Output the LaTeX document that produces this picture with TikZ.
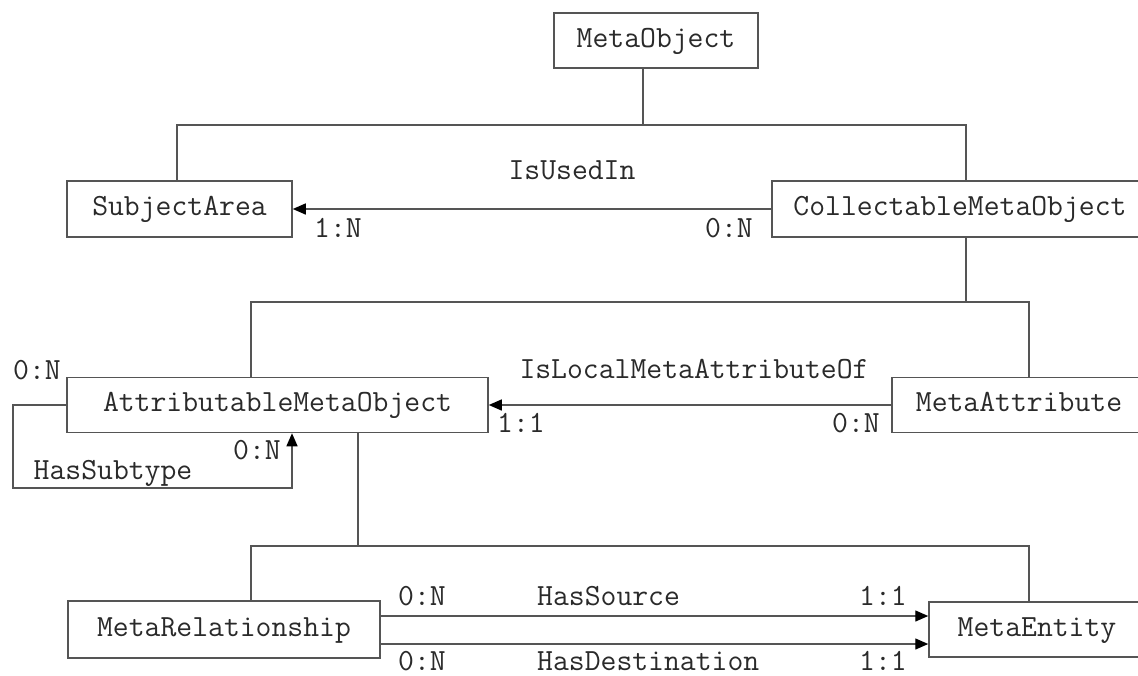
\documentclass[tikz,border=0pt]{standalone}
\usetikzlibrary{arrows.meta,positioning,calc}
\definecolor{lnC}{HTML}{555555}
\definecolor{txC}{HTML}{2A2A2A}

\begin{document}
\begin{tikzpicture}[x=1pt,y=-1pt,
  ent/.style={rectangle,draw=lnC,line width=1.5pt,inner sep=0pt,text=txC,
    font=\ttfamily\fontsize{30.8}{34}\selectfont,text height=19pt,text depth=6pt},
  lbl/.style={inner sep=0pt,anchor=base,text=txC,font=\ttfamily\fontsize{30.8}{34}\selectfont},
  ln/.style={draw=lnC,line width=1.4pt},
  arr/.style={ln,-{Triangle[length=13pt,width=11pt,black]}}]
\useasboundingbox (0,0) rectangle (1138,675);
\clip (0,0) rectangle (1138,675);
\fill[white] (0,0) rectangle (1138,675);
% entities
\node[ent,minimum width=204pt,minimum height=55pt] (mo) at (656,40.5) {MetaObject};
\node[ent,minimum width=225pt,minimum height=56pt] (sa) at (179.5,209) {SubjectArea};
\node[ent,minimum width=376pt,minimum height=56pt] (cmo) at (960,209) {CollectableMetaObject};
\node[ent,minimum width=421pt,minimum height=55pt] (amo) at (277.5,405) {AttributableMetaObject};
\node[ent,minimum width=254pt,minimum height=55pt] (ma) at (1019,405) {MetaAttribute};
\node[ent,minimum width=312pt,minimum height=57pt] (mr) at (224,629.5) {MetaRelationship};
\node[ent,minimum width=216pt,minimum height=55pt] (me) at (1037,629.5) {MetaEntity};
% subtype buses
\coordinate (b1) at (643,125);
\coordinate (b1l) at (177,125);
\coordinate (b1r) at (966,125);
\draw[ln] (b1|-mo.south) -- (b1);
\draw[ln] (b1l|-sa.north) -- (b1l) -- (b1r) -- (b1r|-cmo.north);
\coordinate (b2) at (966,302);
\coordinate (b2l) at (251,302);
\coordinate (b2r) at (1029,302);
\draw[ln] (b2|-cmo.south) -- (b2);
\draw[ln] (b2l|-amo.north) -- (b2l) -- (b2r) -- (b2r|-ma.north);
\coordinate (b3) at (358,546);
\coordinate (b3l) at (251,546);
\coordinate (b3r) at (1029,546);
\draw[ln] (b3|-amo.south) -- (b3);
\draw[ln] (b3l|-mr.north) -- (b3l) -- (b3r) -- (b3r|-me.north);
% relationships
\draw[arr] (cmo.west) -- (sa.east);
\node[lbl] at (572,179) {IsUsedIn};
\node[lbl] at (338,237) {1:N};
\node[lbl] at (729,237) {0:N};
\draw[arr] (ma.west) -- (amo.east);
\node[lbl] at (694,378) {IsLocalMetaAttributeOf};
\node[lbl] at (521,432) {1:1};
\node[lbl] at (856,432) {0:N};
\coordinate (lp) at (13,488);
\draw[arr] (amo.west) -| (lp) -| ([xshift=14.5pt]amo.south);
\node[lbl] at (37,379) {0:N};
\node[lbl] at (257,459) {0:N};
\node[lbl] at (113,479) {HasSubtype};
\draw[arr] ([yshift=13.5pt]mr.east) -- ([yshift=13.5pt]mr.east -| me.west);
\draw[arr] ([yshift=-14.5pt]mr.east) -- ([yshift=-14.5pt]mr.east -| me.west);
\node[lbl] at (422,605) {0:N};
\node[lbl,anchor=base west] at (537,605) {HasSource};
\node[lbl] at (883,605) {1:1};
\node[lbl] at (422,670) {0:N};
\node[lbl,anchor=base west] at (537,670) {HasDestination};
\node[lbl] at (883,670) {1:1};
\end{tikzpicture}
\end{document}
